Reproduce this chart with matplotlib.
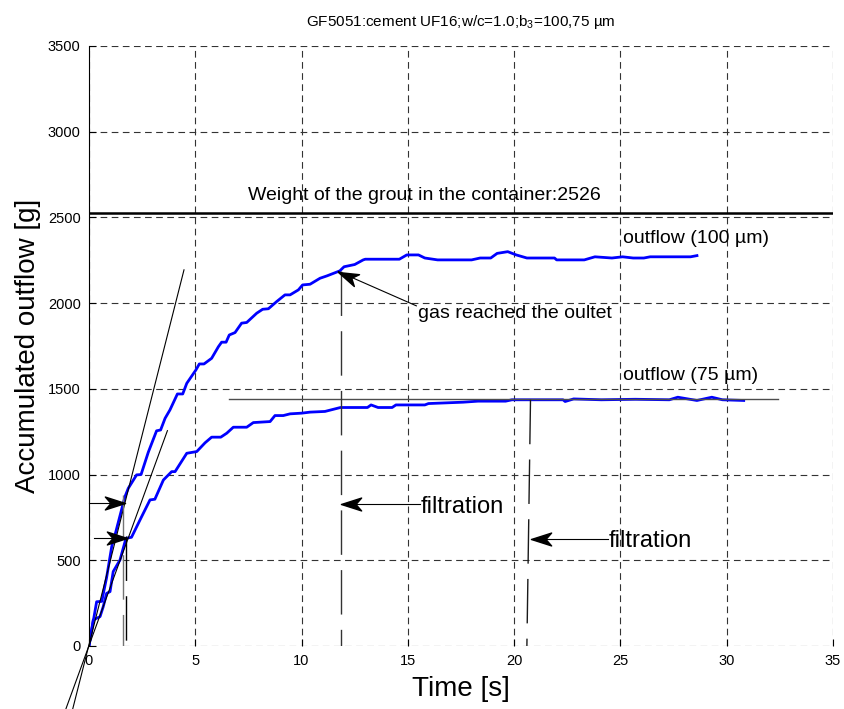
import numpy as np
import matplotlib
matplotlib.use("Agg")
import matplotlib.pyplot as plt
from matplotlib.path import Path
from matplotlib.markers import MarkerStyle
from matplotlib.transforms import Affine2D

plt.rcParams['font.family'] = ['Liberation Sans', 'DejaVu Sans']
plt.rcParams['mathtext.fontset'] = 'custom'
plt.rcParams['mathtext.rm'] = 'Liberation Sans'
plt.rcParams['mathtext.it'] = 'Liberation Sans:italic'

# accumulated outflow, 100 um slot
t100 = [0, 0.36, 0.6, 0.83, 1.07, 1.25, 1.69, 1.85, 2.24, 2.45, 2.79, 3.18, 3.37, 3.58,
        3.81, 4.16, 4.41, 4.6, 5.03, 5.19, 5.41, 5.77, 6.09, 6.24, 6.45, 6.6, 6.87, 7.18,
        7.42, 7.89, 8.17, 8.44, 8.83, 9.22, 9.46, 9.85, 10.05, 10.4, 10.87, 11.2, 11.8,
        12.0, 12.5, 12.9, 13.0, 14.6, 14.95, 15.5, 15.8, 16.4, 18.0, 18.4, 18.9, 19.2,
        19.7, 20.1, 20.6, 21.9, 22.0, 23.3, 23.8, 24.6, 25.1, 25.6, 26.1, 26.4, 28.3, 28.6]
v100 = [0, 258, 260, 400, 580, 660, 870, 920, 998, 1000, 1130, 1255, 1260, 1328,
        1377, 1470, 1470, 1532, 1610, 1645, 1645, 1678, 1746, 1772, 1772, 1814, 1828, 1883,
        1887, 1941, 1964, 1967, 2009, 2048, 2048, 2077, 2106, 2110, 2145, 2159, 2188,
        2212, 2225, 2252, 2256, 2256, 2281, 2281, 2263, 2252, 2252, 2263, 2263, 2290,
        2300, 2281, 2263, 2263, 2252, 2252, 2270, 2263, 2270, 2263, 2263, 2270, 2270, 2277]

# accumulated outflow, 75 um slot
t75 = [0, 0.2, 0.52, 0.67, 0.83, 0.99, 1.14, 1.46, 1.74, 2.0, 2.4, 2.87, 3.1, 3.5, 3.89,
       4.05, 4.6, 5.07, 5.46, 5.77, 6.2, 6.48, 6.79, 7.42, 7.73, 8.52, 8.75, 9.14, 9.46,
       10.0, 10.4, 11.1, 11.83, 13.1, 13.27, 13.6, 14.26, 14.44, 15.8, 15.97, 17.6, 18.3,
       19.6, 19.9, 22.3, 22.4, 22.8, 24.1, 25.7, 27.3, 27.7, 28.6, 29.3, 29.8, 30.8]
v75 = [0, 152, 171, 229, 307, 317, 434, 502, 628, 634, 735, 852, 856, 968, 1017,
       1017, 1124, 1134, 1185, 1218, 1218, 1241, 1276, 1276, 1303, 1309, 1344, 1344, 1354,
       1358, 1364, 1368, 1391, 1391, 1406, 1391, 1391, 1406, 1406, 1414, 1422, 1428,
       1428, 1436, 1436, 1426, 1441, 1436, 1439, 1436, 1451, 1432, 1451, 1436, 1432]

grout_weight = 2526

# tangent lines at the start
tan100_t = [-0.76, 4.47]
tan100_v = [-365, 2194]
tan75_t = [-1.08, 3.69]
tan75_v = [-365, 1256]

fig = plt.figure(figsize=(8.45, 7.09), dpi=100)
ax = fig.add_axes([0.1053, 0.0889, 0.8805, 0.8463])

ax.set_xlim(0, 35)
ax.set_ylim(0, 3500)
ax.set_xticks(np.arange(0, 36, 5))
ax.set_yticks(np.arange(0, 3501, 500))
ax.grid(True, color='0.2', linestyle=(0, (6, 4)), linewidth=0.8)
for s in ['top', 'right', 'bottom']:
    ax.spines[s].set_visible(False)
ax.spines['left'].set_linewidth(0.8)
ax.tick_params(direction='in', length=5, labelsize=10.5, pad=6, width=0.8)

ax.plot(t100, v100, color='#0000ff', lw=2.0)
ax.plot(t75, v75, color='#0000ff', lw=2.0)

ax.axhline(grout_weight, color='k', lw=1.8)
ax.text(7.5, 2602, 'Weight of the grout in the container:2526', fontsize=14, va='baseline')
ax.text(25.1, 2353, 'outflow (100 µm)', fontsize=14, va='baseline')
ax.text(25.1, 1552, 'outflow (75 µm)', fontsize=14, va='baseline')

ax.plot(tan100_t, tan100_v, color='k', lw=0.8, clip_on=False)
ax.plot(tan75_t, tan75_v, color='k', lw=0.8, clip_on=False)

# level of the 75 um plateau
ax.plot([6.6, 32.4], [1441, 1441], color='0.3', lw=1.0)

dash = (0, (32, 11))
ax.plot([1.61, 1.61], [880, 0], color='0.45', lw=1.0, linestyle=dash)
ax.plot([1.74, 1.74], [640, 0], color='k', lw=1.0, linestyle=dash)
ax.plot([11.84, 11.84], [2186, 0], color='0.2', lw=1.0, linestyle=dash)
ax.plot([20.77, 20.6], [1436, 0], color='0.1', lw=1.0, linestyle=dash)

# matlab style arrow head (concave back), tip at the origin pointing to +x
head = Path([(0, 0), (-1, 0.32), (-0.72, 0), (-1, -0.32), (0, 0)],
            [Path.MOVETO, Path.LINETO, Path.LINETO, Path.LINETO, Path.CLOSEPOLY])


def arrow(tail, tip):
    fig.canvas.draw()
    p0 = ax.transData.transform(tail)
    p1 = ax.transData.transform(tip)
    ang = np.degrees(np.arctan2(p1[1] - p0[1], p1[0] - p0[0]))
    ax.plot([tail[0], tip[0]], [tail[1], tip[1]], color='k', lw=0.8, clip_on=False)
    m = MarkerStyle(head, transform=Affine2D().rotate_deg(ang))
    ax.plot([tip[0]], [tip[1]], marker=m, markersize=29, color='k', clip_on=False)


arrow((0, 836), (1.69, 836))
arrow((0.25, 628), (1.77, 628))
arrow((15.4, 1984), (11.73, 2184))
ax.text(15.5, 1912, 'gas reached the oultet', fontsize=14, va='baseline')

arrow((15.55, 827), (11.84, 827))
ax.text(15.6, 778, 'filtration', fontsize=17, va='baseline')
arrow((24.4, 622), (20.8, 622))
ax.text(24.45, 579, 'filtration', fontsize=17, va='baseline')

ax.set_xlabel('Time [s]', fontsize=20)
ax.set_ylabel('Accumulated outflow [g]', fontsize=20)
ax.xaxis.set_label_coords(0.5, -0.05)
ax.yaxis.set_label_coords(-0.064, 0.5)

fig.text(0.5456, 1 - 26 / 709, 'GF5051:cement UF16;w/c=1.0;b$_3$=100,75 µm',
         fontsize=11, ha='center', va='baseline')

fig.savefig('out.png', dpi=100)
